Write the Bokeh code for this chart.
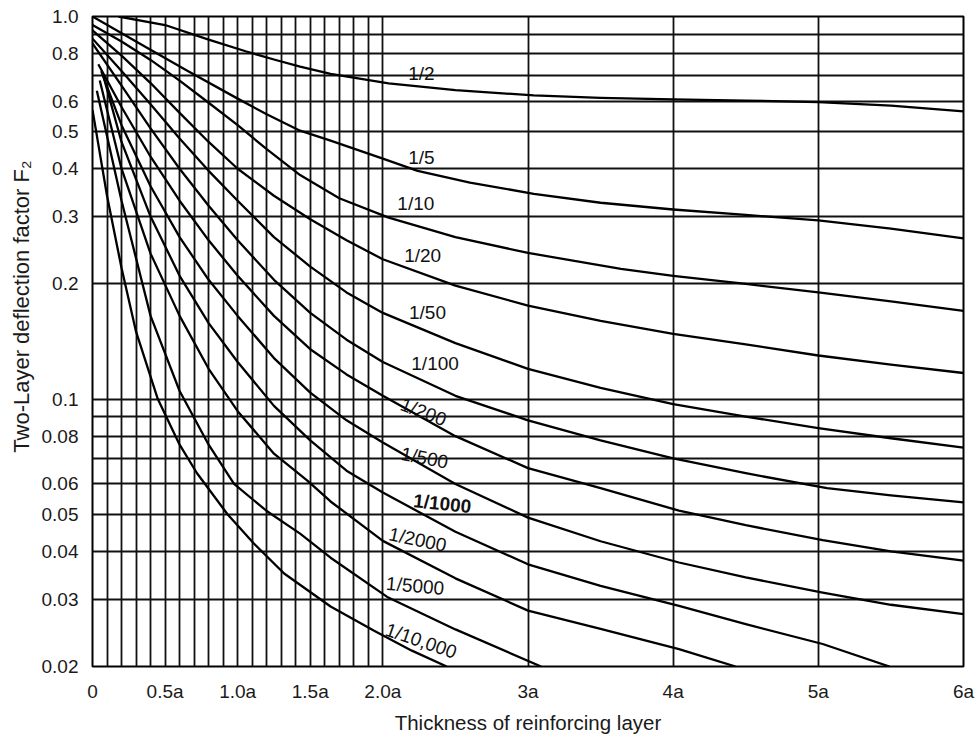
import math
from bokeh.plotting import figure
from bokeh.models import Range1d, FixedTicker, CustomJSTickFormatter, Title
from bokeh.embed import file_html
from bokeh.resources import INLINE
from bokeh.core.properties import value

FONT = "Liberation Sans"

# ---------------- axis ticks / grid ----------------
x_ticks = [0, 0.5, 1.0, 1.5, 2.0, 3, 4, 5, 6]
x_tick_labels = ["0", "0.5a", "1.0a", "1.5a", "2.0a", "3a", "4a", "5a", "6a"]
y_ticks = [1.0, 0.8, 0.6, 0.5, 0.4, 0.3, 0.2, 0.1, 0.08, 0.06, 0.05, 0.04, 0.03, 0.02]
y_tick_labels = ["1.0", "0.8", "0.6", "0.5", "0.4", "0.3", "0.2", "0.1", "0.08", "0.06",
                 "0.05", "0.04", "0.03", "0.02"]
x_grid = [0, 0.1, 0.2, 0.3, 0.4, 0.5, 0.6, 0.7, 0.8, 0.9, 1.0, 1.1, 1.2, 1.3, 1.4, 1.5,
          1.6, 1.7, 1.8, 1.9, 2.0, 3, 4, 5, 6]
y_grid = [0.02, 0.03, 0.04, 0.05, 0.06, 0.07, 0.08, 0.09, 0.1, 0.2, 0.3, 0.4, 0.5,
          0.6, 0.7, 0.8, 0.9, 1.0]

# ---------------- curves: E2/E1 ratio, thickness h (in a), deflection factor F2 ----------------
ratio_labels = ["1/2", "1/5", "1/10", "1/20", "1/50", "1/100", "1/200", "1/500",
                "1/1000", "1/2000", "1/5000", "1/10,000"]

h_1_2 = [0.18, 0.5, 0.8, 1.06, 1.25, 1.43, 1.64, 2.04, 2.5, 3.04, 3.5, 4.0, 4.5, 5.0, 5.5, 6.0]
f_1_2 = [1.0, 0.95, 0.87, 0.81, 0.772, 0.74, 0.708, 0.669, 0.642, 0.622, 0.613, 0.607, 0.603, 0.597, 0.585, 0.565]

h_1_5 = [0, 0.3, 0.65, 1.0, 1.2, 1.43, 1.64, 2.0, 2.24, 2.6, 3.04, 3.5, 4.0, 4.5, 5.0, 5.5, 6.0]
f_1_5 = [1.0, 0.86, 0.722, 0.61, 0.555, 0.503, 0.474, 0.425, 0.395, 0.368, 0.344, 0.326, 0.313, 0.303, 0.293, 0.279, 0.263]

h_1_10 = [0, 0.2, 0.4, 0.6, 0.8, 1.0, 1.2, 1.43, 1.7, 2.04, 2.5, 3.0, 3.64, 4.0, 4.5, 5.0, 5.5, 6.0]
f_1_10 = [0.95, 0.86, 0.77, 0.68, 0.595, 0.52, 0.45, 0.385, 0.335, 0.298, 0.265, 0.241, 0.219, 0.21, 0.2, 0.19, 0.18, 0.17]

h_1_20 = [0, 0.2, 0.4, 0.6, 0.8, 1.0, 1.25, 1.5, 1.75, 2.0, 2.5, 3.0, 3.5, 4.0, 4.5, 5.0, 5.5, 6.0]
f_1_20 = [0.92, 0.79, 0.67, 0.56, 0.47, 0.40, 0.34, 0.295, 0.26, 0.232, 0.198, 0.1755, 0.16, 0.148, 0.139, 0.13, 0.123, 0.117]

h_1_50 = [0, 0.2, 0.4, 0.6, 0.8, 1.0, 1.25, 1.5, 1.75, 2.0, 2.5, 3.0, 3.5, 4.0, 4.5, 5.0, 5.5, 6.0]
f_1_50 = [0.875, 0.72, 0.59, 0.48, 0.395, 0.33, 0.265, 0.222, 0.19, 0.168, 0.14, 0.12, 0.107, 0.097, 0.09, 0.084, 0.079, 0.0747]

h_1_100 = [0, 0.2, 0.4, 0.6, 0.8, 1.0, 1.25, 1.5, 1.75, 2.0, 2.5, 3.0, 3.5, 4.0, 4.5, 5.06, 5.5, 6.0]
f_1_100 = [0.85, 0.66, 0.51, 0.40, 0.32, 0.26, 0.205, 0.168, 0.143, 0.125, 0.102, 0.088, 0.078, 0.070, 0.064, 0.0585, 0.056, 0.0537]

h_1_200 = [0.04, 0.2, 0.4, 0.6, 0.8, 1.0, 1.25, 1.5, 1.75, 2.0, 2.5, 3.0, 3.5, 4.04, 4.5, 5.03, 5.5, 6.0]
f_1_200 = [0.75, 0.58, 0.43, 0.33, 0.26, 0.21, 0.165, 0.135, 0.116, 0.102, 0.080, 0.066, 0.0585, 0.0511, 0.0468, 0.0428, 0.040, 0.0378]

h_1_500 = [0.06, 0.2, 0.4, 0.6, 0.8, 1.0, 1.25, 1.5, 1.75, 2.0, 2.5, 3.0, 3.5, 4.04, 4.5, 5.03, 5.5, 6.0]
f_1_500 = [0.72, 0.52, 0.36, 0.265, 0.205, 0.165, 0.128, 0.104, 0.088, 0.077, 0.060, 0.049, 0.0425, 0.0374, 0.0342, 0.0312, 0.029, 0.0274]

h_1_1000 = [0.07, 0.2, 0.4, 0.6, 0.8, 1.0, 1.25, 1.5, 1.75, 2.0, 2.5, 3.0, 3.5, 4.04, 4.5, 5.03, 5.49]
f_1_1000 = [0.71, 0.47, 0.30, 0.21, 0.158, 0.125, 0.096, 0.078, 0.065, 0.057, 0.045, 0.037, 0.0325, 0.0288, 0.0258, 0.0229, 0.02]

h_1_2000 = [0.05, 0.2, 0.4, 0.6, 0.8, 1.0, 1.25, 1.48, 1.64, 2.0, 2.5, 3.0, 3.5, 4.04, 4.43]
f_1_2000 = [0.68, 0.40, 0.24, 0.165, 0.12, 0.093, 0.072, 0.0612, 0.054, 0.0426, 0.034, 0.028, 0.0251, 0.0222, 0.02]

h_1_5000 = [0.03, 0.2, 0.4, 0.6, 0.8, 0.975, 1.2, 1.43, 1.64, 2.03, 2.5, 3.09]
f_1_5000 = [0.64, 0.33, 0.165, 0.105, 0.076, 0.06, 0.051, 0.0445, 0.0385, 0.0304, 0.025, 0.02]

h_1_10000 = [0, 0.1, 0.2, 0.3, 0.45, 0.6, 0.72, 0.93, 1.11, 1.32, 1.64, 1.94, 2.2, 2.44]
f_1_10000 = [0.57, 0.34, 0.22, 0.15, 0.10, 0.076, 0.064, 0.05, 0.042, 0.035, 0.0287, 0.0248, 0.022, 0.02]

curve_h = [h_1_2, h_1_5, h_1_10, h_1_20, h_1_50, h_1_100, h_1_200, h_1_500,
           h_1_1000, h_1_2000, h_1_5000, h_1_10000]
curve_f = [f_1_2, f_1_5, f_1_10, f_1_20, f_1_50, f_1_100, f_1_200, f_1_500,
           f_1_1000, f_1_2000, f_1_5000, f_1_10000]

# curve label anchors (left-middle of text), rotation in degrees
label_h = [2.175, 2.175, 2.10, 2.147, 2.18, 2.196, 2.127, 2.127, 2.21, 2.044, 2.023, 2.023]
label_f = [0.709, 0.427, 0.3245, 0.237, 0.1684, 0.1238, 0.0974, 0.0721, 0.0543, 0.0445, 0.033, 0.0251]
label_angle = [0, 0, 0, 0, 0, 0, -21, -11, -6, -12, -5, -19]
label_bold = [False, False, False, False, False, False, False, False, True, False, False, False]

# ---------------- figure ----------------
p = figure(frame_width=871, frame_height=650,
           x_range=Range1d(0, 6), y_range=Range1d(0.02, 1.0), y_axis_type="log",
           output_backend="svg", toolbar_location=None,
           min_border_left=92, min_border_right=14, min_border_top=16, min_border_bottom=68,
           background_fill_color="white", border_fill_color="white")
p.outline_line_color = "black"
p.outline_line_width = 2

fmt_code = ("for (let i = 0; i < tv.length; i++) { if (Math.abs(tick - tv[i]) < 1e-9 * Math.max(1, Math.abs(tv[i])) ) { return tl[i]; } } return '';")
p.xaxis.ticker = FixedTicker(ticks=x_ticks)
p.xaxis.formatter = CustomJSTickFormatter(args=dict(tv=x_ticks, tl=x_tick_labels), code=fmt_code)
p.yaxis.ticker = FixedTicker(ticks=y_ticks)
p.yaxis.formatter = CustomJSTickFormatter(args=dict(tv=y_ticks, tl=y_tick_labels), code=fmt_code)

p.xgrid.ticker = FixedTicker(ticks=x_grid)
p.ygrid.ticker = FixedTicker(ticks=y_grid)
p.grid.grid_line_color = "#111111"
p.grid.grid_line_width = 1.8
p.grid.grid_line_alpha = 1.0

p.axis.axis_line_color = None
p.axis.major_tick_line_color = None
p.axis.minor_tick_line_color = None
p.axis.major_label_text_font = FONT
p.axis.major_label_text_font_size = "19px"
p.axis.major_label_text_color = "#1a1a1a"
p.xaxis.major_label_standoff = 8
p.yaxis.major_label_standoff = 8

p.xaxis.axis_label = "Thickness of reinforcing layer"
p.xaxis.axis_label_text_font = FONT
p.xaxis.axis_label_text_font_size = "20.5px"
p.xaxis.axis_label_text_font_style = "normal"
p.xaxis.axis_label_text_color = "#1a1a1a"
p.xaxis.axis_label_standoff = 6

ytitle = Title(text="Two-Layer deflection factor F\u2082", align="right", offset=144,
               vertical_align="middle", standoff=8,
               text_font=FONT, text_font_size="22px", text_font_style="normal",
               text_color="#1a1a1a")
p.add_layout(ytitle, "left")

for hs, fs in zip(curve_h, curve_f):
    p.line(hs, fs, line_color="black", line_width=2.3, line_join="round")

for i, t in enumerate(ratio_labels):
    p.text(x=[label_h[i]], y=[label_f[i]], text=[t], angle=label_angle[i], angle_units="deg",
           text_align="left", text_baseline="middle",
           text_font=value(FONT), text_font_size="19px",
           text_font_style="bold" if label_bold[i] else "normal",
           text_color="#111111")

open("out.html", "w").write(file_html(p, INLINE))
